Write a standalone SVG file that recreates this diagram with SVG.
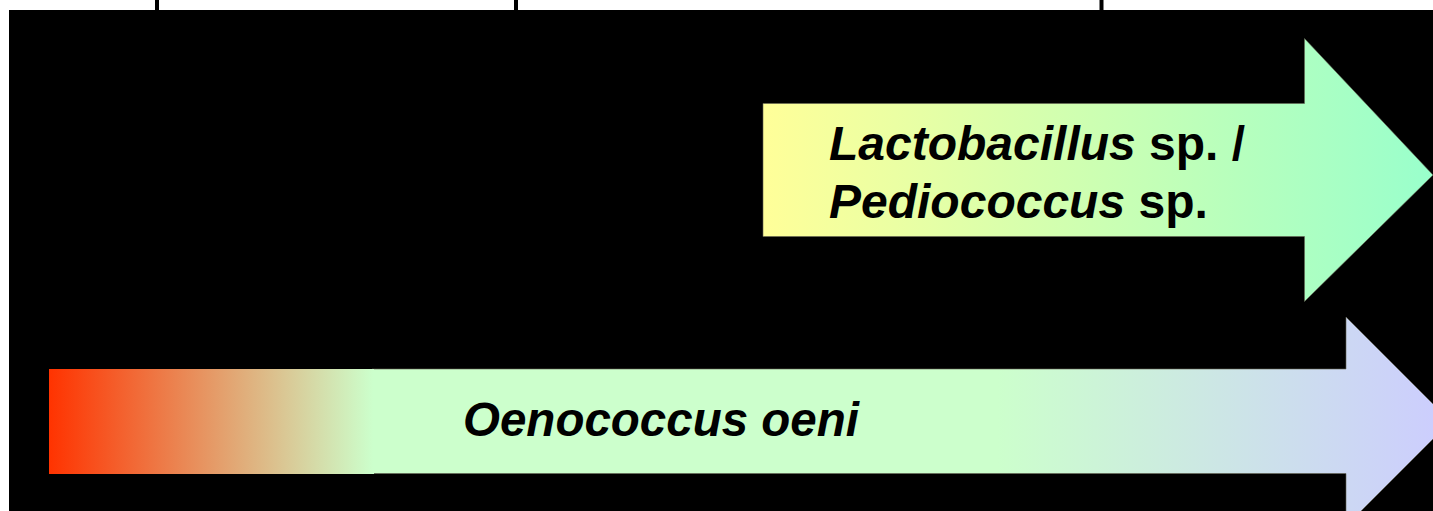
<svg xmlns="http://www.w3.org/2000/svg" width="1433" height="511" viewBox="0 0 1433 511">
  <defs>
    <linearGradient id="gUpper" gradientUnits="userSpaceOnUse" x1="763" y1="0" x2="1433" y2="0">
      <stop offset="0" stop-color="#FFFF99"/>
      <stop offset="1" stop-color="#99FFCC"/>
    </linearGradient>
    <linearGradient id="gLeft" gradientUnits="userSpaceOnUse" x1="49" y1="0" x2="373" y2="0">
      <stop offset="0" stop-color="#FF3300"/>
      <stop offset="1" stop-color="#CCFFCC"/>
    </linearGradient>
    <linearGradient id="gLower" gradientUnits="userSpaceOnUse" x1="373" y1="0" x2="1450" y2="0">
      <stop offset="0" stop-color="#CCFFCC"/>
      <stop offset="0.58" stop-color="#CCFFCC"/>
      <stop offset="1" stop-color="#CCCCFF"/>
    </linearGradient>
  </defs>
  <style>
    .lbl { font-family: "Liberation Sans", Arial, sans-serif; font-weight: bold; font-size: 48px; fill: #000000; }
    .it { font-style: italic; }
    .edge { stroke: #666655; stroke-opacity: 0.6; stroke-width: 1; }
    .tick { stroke: #000000; stroke-width: 4; }
  </style>
  <rect x="0" y="0" width="1433" height="511" fill="#FFFFFF"/>
  <rect x="9" y="10" width="1424" height="501" fill="#000000"/>
  <g id="ticks">
    <line class="tick" x1="157" y1="0" x2="157" y2="10"/>
    <line class="tick" x1="516" y1="0" x2="516" y2="10"/>
    <line class="tick" x1="1101.5" y1="0" x2="1101.5" y2="10"/>
  </g>
  <g id="connectors">
    <g id="arrow-lacto">
      <polygon class="edge" fill="url(#gUpper)" points="763,103.5 1304.5,103.5 1304.5,38.5 1433,175 1304.5,301.5 1304.5,236.5 763,236.5"/>
      <text class="lbl" x="829" y="160"><tspan class="it">Lactobacillus</tspan> sp. /</text>
      <text class="lbl" x="829" y="218"><tspan class="it">Pediococcus</tspan> sp.</text>
    </g>
    <g id="arrow-oeni">
      <polygon class="edge" fill="url(#gLower)" points="372,369 1346,369 1346,317 1450.5,421.5 1346,526 1346,473.5 372,473.5"/>
      <rect x="49" y="369" width="325" height="105" fill="url(#gLeft)"/>
      <text class="lbl it" x="463" y="436" style="font-size:47.5px">Oenococcus oeni</text>
    </g>
  </g>
</svg>
